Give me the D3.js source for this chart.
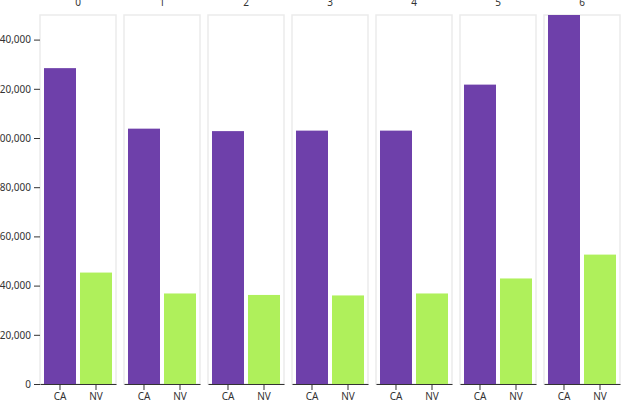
<!DOCTYPE html>
<meta charset="utf-8">
<head>
	<script src="https://d3js.org/d3.v7.min.js"></script>
	<style>
		body {
			margin: 0;
			font: 10px "Noto Sans", sans-serif;
			background: #fff;
		}
		.axis text {
			fill: #333;
			font-family: "Noto Sans", sans-serif;
		}
		.axis line,
		.axis path {
			stroke: #333;
		}
		.panel {
			fill: #fff;
			stroke: #ebebeb;
			stroke-width: 1.5;
		}
	</style>
</head>

<body>
	<div id="chart"></div>
</body>

<script type="text/javascript">

	var facets = ["0", "1", "2", "3", "4", "5", "6"];
	var states = ["CA", "NV"];
	var caValues = [128400, 103800, 102800, 103000, 103000, 121700, 150000];
	var nvValues = [45300, 36800, 36200, 36000, 36800, 42900, 52600];
	var yTicks = [0, 20000, 40000, 60000, 80000, 100000, 120000, 140000];

	var data = facets.map(function(f, i) {
		return {
			facet: f,
			values: [
				{state: "CA", value: caValues[i]},
				{state: "NV", value: nvValues[i]}
			]
		};
	});

	var width = 640,
		height = 400,
		margin = {top: 15, right: 20, bottom: 16, left: 40};

	var fx = d3.scaleBand()
		.domain(facets)
		.range([margin.left, width - margin.right])
		.paddingInner(8 / 84)
		.paddingOuter(0);

	var x = d3.scaleBand()
		.domain(states)
		.range([0, fx.bandwidth()])
		.padding(0.111);

	var y = d3.scaleLinear()
		.domain([0, 150000])
		.range([height - margin.bottom, margin.top]);

	var color = d3.scaleOrdinal()
		.domain(states)
		.range(["#6e40aa", "#aff05b"]);

	var svg = d3.select("#chart").append("svg")
		.attr("width", width)
		.attr("height", height);

	var panel = svg.selectAll(".facet")
		.data(data)
		.enter().append("g")
		.attr("class", "facet")
		.attr("transform", function(d) { return "translate(" + fx(d.facet) + ",0)"; });

	panel.append("rect")
		.attr("class", "panel")
		.attr("x", 0)
		.attr("y", margin.top)
		.attr("width", fx.bandwidth())
		.attr("height", y(0) - margin.top);

	panel.selectAll(".bar")
		.data(function(d) { return d.values; })
		.enter().append("rect")
		.attr("class", "bar")
		.attr("x", function(d) { return x(d.state); })
		.attr("width", x.bandwidth())
		.attr("y", function(d) { return y(Math.min(d.value, 150000)); })
		.attr("height", function(d) { return y(0) - y(Math.min(d.value, 150000)); })
		.style("fill", function(d) { return color(d.state); });

	panel.append("g")
		.attr("class", "x axis")
		.attr("transform", "translate(0," + y(0) + ")")
		.call(d3.axisBottom(x).tickSizeOuter(0))
		.selectAll("text")
		.style("font-size", "10px");

	panel.append("text")
		.attr("x", fx.bandwidth() / 2)
		.attr("y", 6)
		.style("text-anchor", "middle")
		.style("font-size", "10px")
		.style("fill", "#333")
		.text(function(d) { return d.facet; });

	var yaxis = svg.append("g")
		.attr("class", "y axis")
		.attr("transform", "translate(" + margin.left + ",0)")
		.call(d3.axisLeft(y).tickValues(yTicks).tickFormat(d3.format(",")));

	yaxis.select(".domain").remove();
	yaxis.selectAll("text").style("font-size", "10px");

</script>
